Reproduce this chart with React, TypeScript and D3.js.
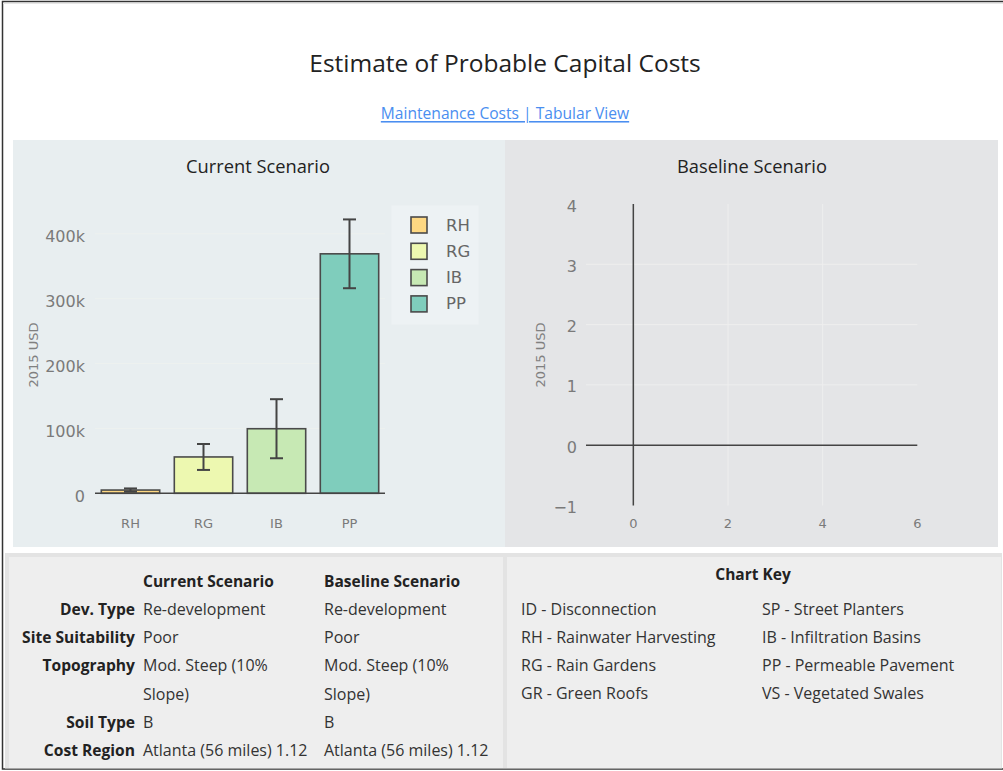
import React from 'react';
import * as d3 from 'd3';

const categories = ['RH', 'RG', 'IB', 'PP'];
const costValues = [5000, 56000, 99500, 369000];
const errorHigh = [7500, 76000, 145000, 422000];
const errorLow = [2500, 36000, 54000, 316000];
const barColors = ['#fed882', '#edf8b0', '#c7e9b4', '#7fcdbc'];
const leftYTicks = [0, 100000, 200000, 300000, 400000];
const rightXTicks = [0, 2, 4, 6];
const rightYTicks = [-1, 0, 1, 2, 3, 4];

const tableHeaders = ['Current Scenario', 'Baseline Scenario'];
const tableRowLabels = ['Dev. Type', 'Site Suitability', 'Topography', '', 'Soil Type', 'Cost Region'];
const currentValues = ['Re-development', 'Poor', 'Mod. Steep (10%', 'Slope)', 'B', 'Atlanta (56 miles) 1.12'];
const baselineValues = ['Re-development', 'Poor', 'Mod. Steep (10%', 'Slope)', 'B', 'Atlanta (56 miles) 1.12'];
const keyCol1 = ['ID - Disconnection', 'RH - Rainwater Harvesting', 'RG - Rain Gardens', 'GR - Green Roofs'];
const keyCol2 = ['SP - Street Planters', 'IB - Infiltration Basins', 'PP - Permeable Pavement', 'VS - Vegetated Swales'];

const UI = '"Open Sans", "Noto Sans", sans-serif';
const PLOT = '"DejaVu Sans", Verdana, sans-serif';

export default function App() {
  const xL = d3.scaleBand<string>().domain(categories).range([94, 386]).paddingInner(0.2).paddingOuter(0.1);
  const yL = d3.scaleLinear().domain([0, 400000]).range([493.3, 233.7]);
  const fmtK = (v: number) => (v === 0 ? '0' : `${v / 1000}k`);

  const xR = d3.scaleLinear().domain([-1, 6]).range([586, 917.3]);
  const yR = d3.scaleLinear().domain([-1, 4]).range([505.5, 204]);
  const fmtR = (v: number) => (v < 0 ? `\u2212${Math.abs(v)}` : `${v}`);

  const tickFs = 16;
  const tickCol = '#7a7a7a';

  return (
    <div style={{ position: 'absolute', left: 0, top: 0 }}>
      <svg width={1003} height={771} style={{ display: 'block' }}>
        <rect x={0} y={0} width={1003} height={771} fill="#ffffff" />
        {/* outer frame */}
        <rect x={2.5} y={1.5} width={1010} height={767.5} fill="none" stroke="#333" strokeWidth={1.5} />
        <line x1={3} x2={1003} y1={3.5} y2={3.5} stroke="#e6e6e6" strokeWidth={1} />

        {/* page title */}
        <text x={505} y={62} textAnchor="middle" dominantBaseline="central" fontFamily={UI} fontSize={24.5} fill="#222">
          Estimate of Probable Capital Costs
        </text>
        <text x={505} y={113} textAnchor="middle" dominantBaseline="central" fontFamily={UI} fontSize={15.6} fill="#4a8ef0" textDecoration="underline">
          Maintenance Costs | Tabular View
        </text>

        {/* panels */}
        <rect x={13} y={140} width={492} height={407} fill="#e8eef0" />
        <rect x={505} y={140} width={493} height={407} fill="#e4e5e7" />

        {/* LEFT CHART */}
        <text x={258} y={165} textAnchor="middle" dominantBaseline="central" fontFamily={UI} fontSize={18.3} fill="#222">
          Current Scenario
        </text>
        {leftYTicks.map((t) => (
          <g key={`lg${t}`}>
            {t > 0 && <line x1={95} x2={385} y1={yL(t)} y2={yL(t)} stroke="#edf1ef" strokeWidth={1} />}
            <text x={85} y={yL(t) + 3} textAnchor="end" dominantBaseline="central" fontFamily={PLOT} fontSize={tickFs} fill={tickCol}>
              {fmtK(t)}
            </text>
          </g>
        ))}
        <text transform={`translate(33,355) rotate(-90)`} textAnchor="middle" dominantBaseline="central" fontFamily={PLOT} fontSize={13} fill="#808080">
          2015 USD
        </text>
        {categories.map((c, i) => {
          const x0 = xL(c) as number;
          const bw = xL.bandwidth();
          const cx = x0 + bw / 2;
          return (
            <g key={c}>
              <rect x={x0} y={yL(costValues[i])} width={bw} height={yL(0) - yL(costValues[i])} fill={barColors[i]} stroke="#4a4a4a" strokeWidth={1.6} />
              <line x1={cx} x2={cx} y1={yL(errorHigh[i])} y2={yL(errorLow[i])} stroke="#444" strokeWidth={2} />
              <line x1={cx - 6.5} x2={cx + 6.5} y1={yL(errorHigh[i])} y2={yL(errorHigh[i])} stroke="#444" strokeWidth={2} />
              <line x1={cx - 6.5} x2={cx + 6.5} y1={yL(errorLow[i])} y2={yL(errorLow[i])} stroke="#444" strokeWidth={2} />
              <text x={cx} y={523} textAnchor="middle" dominantBaseline="central" fontFamily={PLOT} fontSize={13} fill={tickCol}>
                {c}
              </text>
            </g>
          );
        })}
        <line x1={95} x2={385} y1={yL(0)} y2={yL(0)} stroke="#444" strokeWidth={1.6} />

        {/* legend */}
        <rect x={391.5} y={205.5} width={87} height={119} fill="#edf2f4" />
        {categories.map((c, i) => (
          <g key={`leg${c}`}>
            <rect x={411} y={225 + i * 26.3 - 8} width={16} height={16} fill={barColors[i]} stroke="#4a4a4a" strokeWidth={1.6} />
            <text x={446} y={225 + i * 26.3} dominantBaseline="central" fontFamily={PLOT} fontSize={16.5} fill="#666">
              {c}
            </text>
          </g>
        ))}

        {/* RIGHT CHART */}
        <text x={752} y={165} textAnchor="middle" dominantBaseline="central" fontFamily={UI} fontSize={18.3} fill="#222">
          Baseline Scenario
        </text>
        {rightYTicks.map((t) => (
          <g key={`ry${t}`}>
            {t > 0 && t < 4 && <line x1={586} x2={917.3} y1={yR(t)} y2={yR(t)} stroke="#eeeeee" strokeWidth={1} />}
            <text x={577} y={yR(t) + 2} textAnchor="end" dominantBaseline="central" fontFamily={PLOT} fontSize={tickFs} fill={tickCol}>
              {fmtR(t)}
            </text>
          </g>
        ))}
        {rightXTicks.map((t) => (
          <g key={`rx${t}`}>
            {t > 0 && t < 6 && <line x1={xR(t)} x2={xR(t)} y1={204} y2={505.5} stroke="#eeeeee" strokeWidth={1} />}
            <text x={xR(t)} y={523} textAnchor="middle" dominantBaseline="central" fontFamily={PLOT} fontSize={13} fill={tickCol}>
              {t}
            </text>
          </g>
        ))}
        <line x1={586} x2={917.3} y1={yR(0)} y2={yR(0)} stroke="#444" strokeWidth={1.5} />
        <line x1={xR(0)} x2={xR(0)} y1={204} y2={505.5} stroke="#444" strokeWidth={1.5} />
        <text transform={`translate(540,355) rotate(-90)`} textAnchor="middle" dominantBaseline="central" fontFamily={PLOT} fontSize={13} fill="#808080">
          2015 USD
        </text>

        {/* BOTTOM */}
        <rect x={5} y={553} width={997} height={215.5} fill="#e3e3e3" />
        <rect x={9} y={557} width={494} height={211} fill="#eeeeee" />
        <rect x={507} y={557} width={494} height={211} fill="#eeeeee" />

        {tableHeaders.map((h, i) => (
          <text key={h} x={i === 0 ? 143 : 324} y={580.5} dominantBaseline="central" fontFamily={UI} fontSize={15.5} fontWeight="bold" fill="#222">
            {h}
          </text>
        ))}
        {tableRowLabels.map((l, i) => (
          <g key={`row${i}`}>
            {l && (
              <text x={135} y={609 + i * 28.2} textAnchor="end" dominantBaseline="central" fontFamily={UI} fontSize={15.6} fontWeight="bold" fill="#222">
                {l}
              </text>
            )}
            <text x={143} y={609 + i * 28.2} dominantBaseline="central" fontFamily={UI} fontSize={16} fill="#333">
              {currentValues[i]}
            </text>
            <text x={324} y={609 + i * 28.2} dominantBaseline="central" fontFamily={UI} fontSize={16} fill="#333">
              {baselineValues[i]}
            </text>
          </g>
        ))}

        <text x={753} y={574} textAnchor="middle" dominantBaseline="central" fontFamily={UI} fontSize={15.5} fontWeight="bold" fill="#222">
          Chart Key
        </text>
        {keyCol1.map((k, i) => (
          <text key={k} x={521} y={609 + i * 28} dominantBaseline="central" fontFamily={UI} fontSize={16} fill="#333">
            {k}
          </text>
        ))}
        {keyCol2.map((k, i) => (
          <text key={k} x={762} y={609 + i * 28} dominantBaseline="central" fontFamily={UI} fontSize={16} fill="#333">
            {k}
          </text>
        ))}
      </svg>
    </div>
  );
}
